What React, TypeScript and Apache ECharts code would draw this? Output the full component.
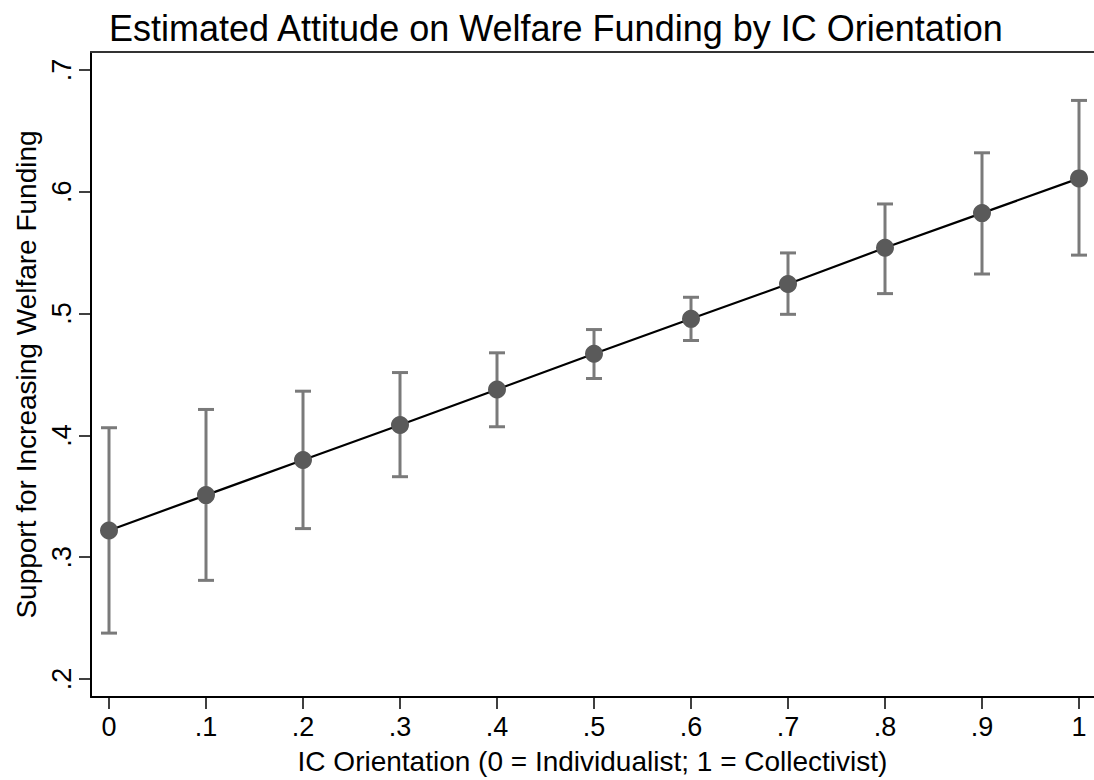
import React, { useEffect, useRef } from "react";
import * as echarts from "echarts";

const xValues = [0, 0.1, 0.2, 0.3, 0.4, 0.5, 0.6, 0.7, 0.8, 0.9, 1];
const estimates = [0.322, 0.351, 0.3798, 0.4085, 0.4377, 0.467, 0.4957, 0.5243, 0.554, 0.5825, 0.611];
const ciLower = [0.2377, 0.281, 0.3235, 0.3661, 0.4071, 0.4467, 0.4779, 0.4994, 0.5164, 0.5325, 0.548];
const ciUpper = [0.4063, 0.4213, 0.4363, 0.4516, 0.4678, 0.4869, 0.5134, 0.5498, 0.59, 0.632, 0.675];
const xTicks = [0, 0.1, 0.2, 0.3, 0.4, 0.5, 0.6, 0.7, 0.8, 0.9, 1];
const yTicks = [0.2, 0.3, 0.4, 0.5, 0.6, 0.7];

const titleText = "Estimated Attitude on Welfare Funding by IC Orientation";
const xName = "IC Orientation (0 = Individualist; 1 = Collectivist)";
const yName = "Support for Increasing Welfare Funding";

const FONT = "'Liberation Sans', Arial, Helvetica, sans-serif";

const fmt = (v: number) => {
  const r = Math.round(v * 10) / 10;
  if (r === 0) return "0";
  if (r === 1) return "1";
  return String(r).replace(/^0/, "");
};

export default function App() {
  const ref = useRef<HTMLDivElement>(null);
  useEffect(() => {
    if (!ref.current) return;
    const chart = echarts.init(ref.current, null, { renderer: "svg" });
    const errData = xValues.map((x, i) => [x, ciLower[i], ciUpper[i]]);
    const lineData = xValues.map((x, i) => [x, estimates[i]]);
    chart.setOption({
      animation: false,
      backgroundColor: "#ffffff",
      title: {
        text: titleText,
        left: 104,
        top: 5,
        textStyle: { fontFamily: FONT, fontSize: 36, fontWeight: "normal", color: "#000" },
      },
      grid: { left: 91, right: 0, top: 52, bottom: 82, containLabel: false },
      xAxis: [
        {
          type: "value",
          min: -0.01856,
          max: 1.01546,
          splitLine: { show: false },
          axisLine: { show: true, onZero: false, lineStyle: { color: "#000", width: 2 } },
          axisTick: { show: true, length: 12, lineStyle: { color: "#000", width: 1.5 }, customValues: xTicks },
          axisLabel: {
            customValues: xTicks,
            formatter: fmt,
            fontFamily: FONT,
            fontSize: 27,
            color: "#000",
            margin: 16,
          },
          name: xName,
          nameLocation: "middle",
          nameGap: 50,
          nameTextStyle: { fontFamily: FONT, fontSize: 28, color: "#000" },
        },
        {
          type: "value",
          position: "top",
          min: -0.01856,
          max: 1.01546,
          splitLine: { show: false },
          axisLine: { show: true, onZero: false, lineStyle: { color: "#333", width: 2 } },
          axisTick: { show: false },
          axisLabel: { show: false },
        },
      ],
      yAxis: {
        type: "value",
        min: 0.18525,
        max: 0.71475,
        splitLine: { show: false },
        axisLine: { show: true, onZero: false, lineStyle: { color: "#000", width: 2 } },
        axisTick: { show: true, length: 12, lineStyle: { color: "#000", width: 1.5 }, customValues: yTicks },
        axisLabel: {
          customValues: yTicks,
          formatter: fmt,
          rotate: 90,
          fontFamily: FONT,
          fontSize: 27,
          color: "#000",
          margin: 16,
        },
        name: yName,
        nameLocation: "middle",
        nameGap: 50,
        nameTextStyle: { fontFamily: FONT, fontSize: 28, color: "#000" },
      },
      series: [
        {
          type: "custom",
          name: "CI",
          data: errData,
          z: 1,
          renderItem: (params: any, api: any) => {
            const x = api.value(0);
            const lo = api.coord([x, api.value(1)]);
            const hi = api.coord([x, api.value(2)]);
            const cap = 8;
            const style = { stroke: "#7a7a7a", lineWidth: 3 };
            return {
              type: "group",
              children: [
                { type: "line", shape: { x1: lo[0], y1: lo[1], x2: hi[0], y2: hi[1] }, style },
                { type: "line", shape: { x1: lo[0] - cap, y1: lo[1], x2: lo[0] + cap, y2: lo[1] }, style },
                { type: "line", shape: { x1: hi[0] - cap, y1: hi[1], x2: hi[0] + cap, y2: hi[1] }, style },
              ],
            };
          },
        },
        {
          type: "line",
          name: "Estimate",
          data: lineData,
          z: 3,
          symbol: "circle",
          symbolSize: 18,
          lineStyle: { color: "#000", width: 2.2 },
          itemStyle: { color: "#5a5a5a" },
        },
      ],
    });
    return () => chart.dispose();
  }, []);
  return <div ref={ref} style={{ position: "fixed", left: 0, top: 0, width: 1094, height: 780 }} />;
}
